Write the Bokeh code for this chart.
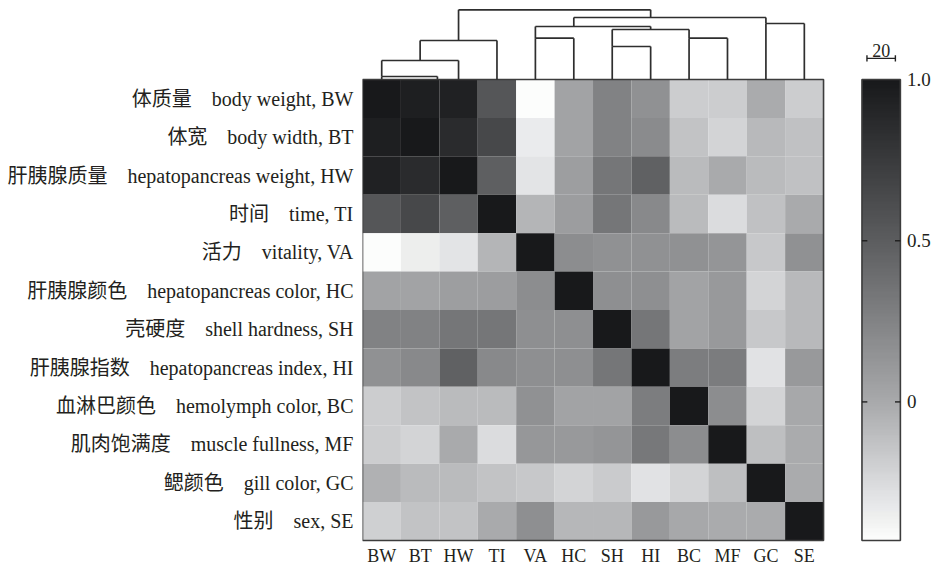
import numpy as np
from bokeh.plotting import figure
from bokeh.models import (LinearColorMapper, FixedTicker, Range1d, ColumnDataSource)
from bokeh.transform import transform
from bokeh.core.properties import value
from bokeh.embed import file_html
from bokeh.resources import INLINE

# ---------------- data ----------------
codes = ["BW", "BT", "HW", "TI", "VA", "HC", "SH", "HI", "BC", "MF", "GC", "SE"]
names_cn = ["体质量", "体宽", "肝胰腺质量", "时间", "活力", "肝胰腺颜色", "壳硬度",
            "肝胰腺指数", "血淋巴颜色", "肌肉饱满度", "鳃颜色", "性别"]
names_en = ["body weight", "body width", "hepatopancreas weight", "time", "vitality",
            "hepatopancreas color", "shell hardness", "hepatopancreas index",
            "hemolymph color", "muscle fullness", "gill color", "sex"]

# correlation matrix, rows/cols in the order of `codes`
corr = [
    [1.00, 0.95, 0.94, 0.55, -0.43, 0.04, 0.26, 0.16, -0.18, -0.18, -0.01, -0.18],
    [0.95, 1.00, 0.87, 0.65, -0.34, 0.04, 0.26, 0.20, -0.13, -0.22, -0.08, -0.12],
    [0.94, 0.87, 1.00, 0.49, -0.30, 0.07, 0.34, 0.47, -0.09, 0.00, -0.09, -0.12],
    [0.55, 0.65, 0.49, 1.00, -0.06, 0.08, 0.34, 0.21, -0.09, -0.26, -0.12, 0.00],
    [-0.43, -0.35, -0.30, -0.06, 1.00, 0.18, 0.16, 0.16, 0.16, 0.13, -0.16, 0.16],
    [0.04, 0.04, 0.07, 0.08, 0.18, 1.00, 0.17, 0.17, 0.04, 0.11, -0.22, -0.08],
    [0.26, 0.26, 0.33, 0.33, 0.17, 0.17, 1.00, 0.34, 0.04, 0.11, -0.16, -0.08],
    [0.16, 0.21, 0.47, 0.21, 0.17, 0.17, 0.34, 1.00, 0.29, 0.30, -0.29, 0.11],
    [-0.18, -0.13, -0.09, -0.09, 0.16, 0.04, 0.04, 0.29, 1.00, 0.18, -0.22, 0.01],
    [-0.18, -0.22, 0.00, -0.26, 0.12, 0.11, 0.13, 0.32, 0.18, 1.00, -0.11, -0.01],
    [-0.04, -0.09, -0.09, -0.13, -0.16, -0.22, -0.17, -0.29, -0.22, -0.11, 1.00, -0.01],
    [-0.20, -0.13, -0.13, 0.00, 0.17, -0.07, -0.07, 0.11, 0.01, -0.01, -0.01, 1.00],
]

# dendrogram merges: leaf-position of left/right branch, merge height,
# and the height each branch drops down to
link_left = [0, 0, 1, 2, 5, 10, 4, 4, 6, 6, 8]
link_right = [1.45, 2, 3, 7, 10, 11, 7, 5, 8, 7, 9]
link_height = [3, 19, 39, 69.7, 62, 56, 53, 41.3, 50, 33, 41.3]
left_child_height = [0, 3, 19, 39, 53, 0, 41.3, 0, 33, 0, 0]
right_child_height = [0, 0, 0, 62, 56, 0, 50, 0, 41.3, 0, 0]

cbar_low, cbar_high = -0.43, 1.0
cbar_ticks = [0, 0.5, 1.0]
cbar_tick_labels = ["0", "0.5", "1.0"]
scale_label = "20"

# ---------------- styling / layout ----------------
n = len(codes)
CELL = 38.42            # px per cell
W, H = 933, 568
LEFT = 362              # px reserved for the row labels
TOP = 79                # px above the heatmap (dendrogram area)
TOP_PAD = TOP / CELL
BOT_PAD = (H - TOP - n * CELL) / CELL
X_END = (W - LEFT) / CELL
DSCALE = 1 / CELL       # dendrogram height units -> cell units
SERIF = "Liberation Serif"
SERIF_CJK = "Liberation Serif, Noto Sans CJK SC"
INK = "#231f20"

# grey palette matched to the reference colour bar
anchors_v = [cbar_low, 0.0, 0.5, 1.0]
anchors_l = [252, 168, 92, 24]
pal = []
for v in np.linspace(cbar_low, cbar_high, 256):
    L = float(np.interp(v, anchors_v, anchors_l))
    r = int(round(L)); g = min(255, r + 1); b = min(255, r + (3 if r < 235 else 0))
    pal.append("#%02x%02x%02x" % (r, g, b))
mapper = LinearColorMapper(palette=pal, low=cbar_low, high=cbar_high)

p = figure(width=W, height=H, output_backend="svg", toolbar_location=None,
           x_range=Range1d(0, X_END), y_range=Range1d(-BOT_PAD, n + TOP_PAD),
           x_axis_location=None,
           min_border_left=LEFT, min_border_right=0, min_border_top=0,
           min_border_bottom=0)
p.outline_line_color = None
p.grid.visible = False
p.background_fill_color = "white"

# colour bar value range: maps cbar_low..cbar_high onto the heatmap rows 0..n
span = cbar_high - cbar_low
p.extra_y_ranges = {"cb": Range1d(cbar_low - span * BOT_PAD / n,
                                  cbar_low + span * (n + TOP_PAD) / n)}

# heatmap cells
xs, ys, vals = [], [], []
for i in range(n):
    for j in range(n):
        xs.append(j + 0.5)
        ys.append(n - i - 0.5)
        vals.append(corr[i][j])
src = ColumnDataSource(dict(x=xs, y=ys, v=vals))
p.rect(x="x", y="y", width=1, height=1, source=src,
       fill_color=transform("v", mapper), line_color=None)
p.quad(left=0, right=n, bottom=0, top=n, fill_color=None,
       line_color="#3c3c3c", line_width=1.6)

# column labels
p.text(x=[j + 0.5 for j in range(n)], y=[-0.13] * n, text=codes,
       text_align="center", text_baseline="top", text_font=value(SERIF),
       text_font_size="18px", text_color=INK)

# dendrogram
x0s, y0s, x1s, y1s = [], [], [], []
for L, R, h, dl, dr in zip(link_left, link_right, link_height,
                           left_child_height, right_child_height):
    xl, xr = L + 0.5, R + 0.5
    yh = n + h * DSCALE
    x0s += [xl, xl, xr]
    y0s += [yh, n + dl * DSCALE, n + dr * DSCALE]
    x1s += [xr, xl, xr]
    y1s += [yh, yh, yh]
p.segment(x0=x0s, y0=y0s, x1=x1s, y1=y1s, line_color="#2e2e2e", line_width=1.7)

# colour bar
grad = np.linspace(cbar_low, cbar_high, 400).reshape(-1, 1)
p.image(image=[grad], x=n + 1, y=cbar_low, dw=1, dh=span,
        color_mapper=mapper, y_range_name="cb")
p.quad(left=n + 1, right=n + 2, bottom=cbar_low, top=cbar_high, y_range_name="cb",
       fill_color=None, line_color="#3c3c3c", line_width=1.6)
tk = cbar_ticks[:-1]
p.segment(x0=[n + 1] * len(tk), x1=[n + 1.14] * len(tk), y0=tk, y1=tk,
          y_range_name="cb", line_color="#222", line_width=1.4)
p.segment(x0=[n + 1.86] * len(tk), x1=[n + 2] * len(tk), y0=tk, y1=tk,
          y_range_name="cb", line_color="#222", line_width=1.4)
p.text(x=[n + 2.17] * len(cbar_ticks), y=cbar_ticks, text=cbar_tick_labels,
       y_range_name="cb", text_align="left", text_baseline="middle",
       text_font=value(SERIF), text_font_size="19px", text_color=INK)

# scale bar "20"
sb_y = n + 0.55
p.segment(x0=[n + 1.13, n + 1.13, n + 1.87], x1=[n + 1.87, n + 1.13, n + 1.87],
          y0=[sb_y, sb_y - 0.08, sb_y - 0.08], y1=[sb_y, sb_y + 0.08, sb_y + 0.08],
          line_color="#222", line_width=1.4)
p.text(x=[n + 1.5], y=[sb_y + 0.03], text=[scale_label], text_align="center",
       text_baseline="bottom", text_font=value(SERIF),
       text_font_size="18px", text_color=INK)

# row labels (left axis)
row_ticks = [n - i - 0.5 for i in range(n)]
p.yaxis.ticker = FixedTicker(ticks=row_ticks)
p.yaxis.major_label_overrides = {t: f"{c}\u3000{e}, {k}" for t, c, e, k in
                                 zip(row_ticks, names_cn, names_en, codes)}
ax = p.yaxis[0]
ax.axis_line_color = None
ax.major_tick_line_color = None
ax.minor_tick_line_color = None
ax.major_tick_out = 0
ax.major_tick_in = 0
ax.minor_tick_out = 0
ax.minor_tick_in = 0
ax.major_label_text_color = INK
ax.major_label_text_font = SERIF_CJK
ax.major_label_text_font_size = "20px"
ax.major_label_standoff = 9

open("out.html", "w").write(file_html(p, INLINE))
